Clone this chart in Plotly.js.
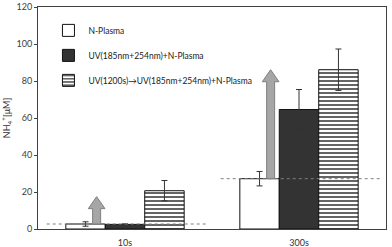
<!DOCTYPE html>
<html><head><meta charset="utf-8">
<script src="https://cdn.plot.ly/plotly-3.0.1.min.js"></script>
<style>html,body{margin:0;padding:0;background:#fff}#c{width:392px;height:247px}</style>
</head><body><div id="c"></div>
<script>
// ---- data ----
var categories = ['10s', '300s'];
var seriesNames = ['N-Plasma', 'UV(185nm+254nm)+N-Plasma', 'UV(1200s)\u2192UV(185nm+254nm)+N-Plasma'];
var nPlasma = [2.7, 27.2];
var nPlasmaErr = [1.2, 3.9];
var uvPlasma = [2.5, 64.6];
var uvPlasmaErr = [0.3, 10.8];
var uvPreUvPlasma = [20.7, 86.1];
var uvPreUvPlasmaErr = [5.5, 11.2];
var arrowBase = [2.7, 27.2];
var arrowTip = [17.5, 86.1];
var yTicks = [0, 20, 40, 60, 80, 100, 120];

// ---- chart ----
var xIdx = categories.map(function (c, i) { return i; });
function errBar(arr) {
  return {type: 'data', array: arr, visible: true, color: '#333', thickness: 1, width: 3};
}
var traces = [
  {type: 'bar', name: seriesNames[0], x: xIdx, y: nPlasma, error_y: errBar(nPlasmaErr),
   legendgroup: 'a', marker: {color: '#ffffff', line: {color: '#111', width: 1}}},
  {type: 'bar', name: seriesNames[1], x: xIdx, y: uvPlasma, error_y: errBar(uvPlasmaErr),
   legendgroup: 'b', marker: {color: '#333333', line: {color: '#111', width: 1}}},
  {type: 'bar', name: seriesNames[2], x: xIdx, y: uvPreUvPlasma, error_y: errBar(uvPreUvPlasmaErr),
   legendgroup: 'c', marker: {color: '#ffffff', line: {color: '#111', width: 1},
     pattern: {shape: '-', fgcolor: '#222', bgcolor: '#ffffff', size: 4, solidity: 0.35}}}
];

var shapes = [];
// dashed reference lines at N-Plasma level
nPlasma.forEach(function (v, i) {
  shapes.push({type: 'line', xref: 'x', yref: 'y', x0: i - 0.45, x1: i + 0.48, y0: v, y1: v,
    line: {color: '#7f7f7f', width: 1, dash: 'dot'}, layer: 'above'});
});
// gray arrows
var ax = -0.163, sw = 0.023, hw = 0.048, hh = 6.5;
arrowBase.forEach(function (b, i) {
  var t = arrowTip[i], c = i + ax;
  var p = 'M' + (c - sw) + ',' + b + ' L' + (c - sw) + ',' + (t - hh) + ' L' + (c - hw) + ',' + (t - hh) +
    ' L' + c + ',' + t + ' L' + (c + hw) + ',' + (t - hh) + ' L' + (c + sw) + ',' + (t - hh) +
    ' L' + (c + sw) + ',' + b + ' Z';
  shapes.push({type: 'path', xref: 'x', yref: 'y', path: p, fillcolor: '#a6a6a6',
    line: {color: '#7f7f7f', width: 1}, layer: 'above'});
});

var layout = {
  width: 392, height: 247,
  margin: {l: 38, r: 6, t: 7, b: 18},
  paper_bgcolor: '#fff', plot_bgcolor: '#fff',
  font: {family: 'Lato, "Open Sans", sans-serif', size: 9, color: '#404040'},
  barmode: 'group', bargap: 0.32, bargroupgap: 0,
  showlegend: true,
  legend: {x: 0.03, y: 0.96, xanchor: 'left', yanchor: 'top', bgcolor: 'rgba(0,0,0,0)',
    font: {size: 8.5, color: '#1a1a1a'}, tracegroupgap: 6, traceorder: 'grouped', itemwidth: 30},
  xaxis: {type: 'linear', range: [-0.5, 1.5], tickvals: xIdx, ticktext: categories,
    showgrid: false, zeroline: false, showline: true, linecolor: '#404040', linewidth: 1,
    mirror: true, ticks: '', ticklabelstandoff: 5, tickfont: {size: 9, color: '#333'}},
  yaxis: {range: [0, 120], tickvals: yTicks, showgrid: false, zeroline: false,
    showline: true, linecolor: '#404040', linewidth: 1, mirror: true,
    ticklabeloverflow: 'allow', automargin: false,
    ticks: 'outside', ticklen: 3, tickcolor: '#404040', tickfont: {size: 9, color: '#404040'},
    title: {text: 'NH<sub>4</sub><sup>+</sup>[\u03bcM]', font: {size: 9, color: '#333'}, standoff: 6}},
  shapes: shapes
};
Plotly.newPlot('c', traces, layout, {displayModeBar: false, staticPlot: true});
</script>
</body></html>
